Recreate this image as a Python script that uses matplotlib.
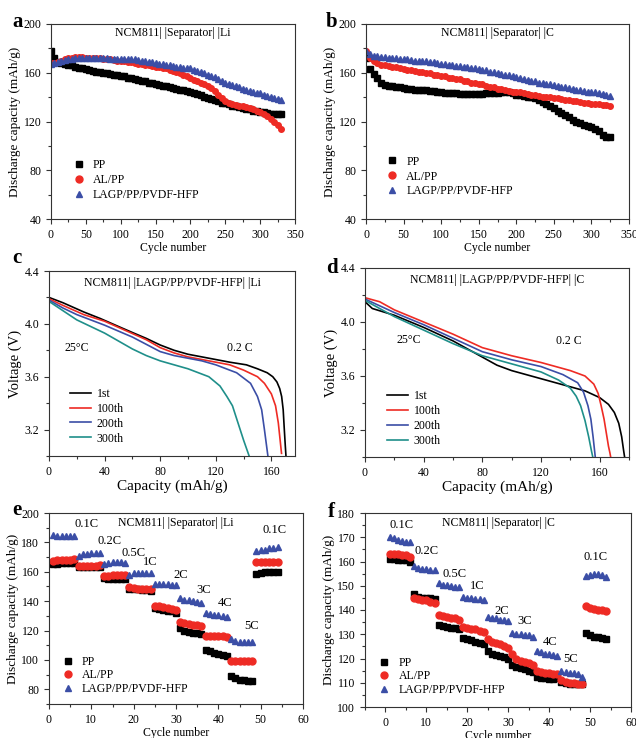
import matplotlib
matplotlib.use("Agg")
import matplotlib.pyplot as plt
from matplotlib.ticker import MultipleLocator

plt.rcParams['font.family'] = ['Liberation Serif', 'DejaVu Serif']
plt.rcParams['mathtext.fontset'] = 'stix'

BLACK = '#000000'
RED = '#ee2b24'
BLUE = '#3b4ea6'
TEAL = '#1f8f8a'
labels = ['PP', 'AL/PP', 'LAGP/PP/PVDF-HFP']

# ---- a: NCM811||Separator||Li cycling (every 5 cycles)
cyc_a = list(range(0, 335, 5))
pp_a = [178, 172, 169, 168, 167, 166.5, 166, 165, 164, 163.5,
        163, 162, 161.5, 161, 160.5, 160, 159.5, 159, 158.5, 158,
        157.5, 157, 156, 155.5, 155, 154, 153.5, 153, 152, 151.5,
        151, 150, 149.5, 149, 148, 147.5, 147, 146, 145.5, 145,
        144.5, 143.5, 142.5, 141.5, 140.5, 139.5, 138.5, 137.5, 136.5, 135.5,
        135, 134, 133, 132.5, 132, 131, 130.5, 130, 129, 128.5,
        128, 127.5, 127, 126.5, 126, 126, 126]
al_a = [168, 168, 169, 170, 171, 172, 172.5, 173, 173, 173,
        172.5, 172.5, 172, 172, 172, 171.5, 171, 171, 170.5, 170,
        170, 169.5, 169, 168.5, 168, 167.5, 167, 166.5, 166, 165.5,
        165, 164.5, 164, 163.5, 162, 161.5, 160.5, 159.5, 158.5, 157,
        155.5, 154, 153, 152, 151, 149.5, 147.5, 145, 142, 139.5,
        137, 135, 134, 133.5, 133, 132.5, 132, 131, 130, 129,
        128, 126.5, 124.5, 122, 120, 117, 114]
lagp_a = [167, 168, 169, 170, 170.5, 171, 171.5, 172, 172, 172,
          172, 172, 172, 172, 172, 172, 172, 171.5, 171.5, 171.5,
          171.5, 171, 171, 171, 171, 170.5, 170, 169.5, 169, 168.5,
          168, 167.5, 167, 166.5, 166, 165.5, 165, 164.5, 164, 163.8,
          163.5, 162.5, 161.5, 160.5, 159.5, 158.5, 157.5, 156.5, 155, 153.5,
          152, 151, 150, 149, 148, 147, 146, 145, 144, 143.5,
          143, 142, 141, 140, 139.5, 138.5, 138]

# ---- b: NCM811||Separator||C cycling (every 5 cycles)
cyc_b = list(range(0, 330, 5))
pp_b = [172, 163, 159, 156, 152, 150, 149.5, 149, 148.5, 148,
        147.5, 147, 146.5, 146, 146, 145.5, 145.5, 145, 145, 144.5,
        144, 143.5, 143.5, 143, 143, 142.5, 142.5, 142.5, 142.5, 142.5,
        142.5, 142.5, 143, 143, 143, 143.5, 144, 144.5, 144, 143,
        142, 141.5, 141, 140.5, 140, 139, 138, 136, 134.5, 133,
        131, 129, 127, 125.5, 123.5, 121.5, 120, 118.5, 117.5, 116.5,
        115.5, 114, 112.5, 109, 107.5, 107.5]
al_b = [178, 172, 170, 168, 166.5, 166, 165.5, 165, 164.5, 164,
        163, 162.5, 162, 161.5, 161, 160.5, 160, 159.5, 158.5, 158,
        157.5, 157, 156, 155.5, 155, 154.5, 153.5, 153, 152, 151.5,
        151, 150.5, 149.5, 148.5, 148, 147, 146.5, 146, 145, 144.5,
        144.5, 144, 143, 142.5, 142, 141.5, 141, 140.5, 140.5, 140,
        139.5, 139, 138.5, 138, 137.5, 137, 136.5, 136, 135.5, 135,
        134.5, 134, 134, 133.5, 133.5, 133]
lagp_b = [178, 175, 174, 173.5, 173, 173, 172.5, 172.5, 172, 171.5,
          171.5, 171, 170.5, 170, 170, 169.5, 169.5, 169, 168.5, 168,
          167.5, 167, 166.5, 166, 165.5, 165.5, 165, 164.5, 164, 163.5,
          163, 162.5, 162, 161, 160.5, 160, 159, 158.5, 158, 157,
          156.5, 156, 155, 154, 153.5, 153, 152, 151.5, 151, 150.5,
          150, 149, 148.5, 148, 147.5, 147, 146, 145.5, 145, 144.5,
          144, 144, 143.5, 142.5, 141.5, 141]

# ---- c: discharge curves, NCM811||LAGP/PP/PVDF-HFP||Li
curve_names = ['1st', '100th', '200th', '300th']
c_cap = [
    [0, 10, 25, 37, 50, 61, 70, 80, 90, 100, 110, 120, 130, 142, 150, 157, 161, 164, 166, 167.4, 168.5, 169.2, 170, 170.5],
    [0, 10, 25, 40, 55, 70, 80, 90, 100, 110, 120, 130, 140, 150, 155, 160, 163, 165, 166.5, 167.3],
    [0, 10, 20, 40, 60, 80, 90, 100, 110, 120, 135, 145, 150, 153, 155, 156.5, 157.5],
    [0, 10, 20, 40, 60, 70, 80, 100, 115, 123, 128, 132, 136, 140, 143, 144],
]
c_volt = [
    [4.20, 4.16, 4.09, 4.04, 3.98, 3.93, 3.89, 3.84, 3.80, 3.77, 3.75, 3.73, 3.71, 3.69, 3.66, 3.63, 3.60, 3.56, 3.51, 3.45, 3.35, 3.22, 3.08, 3.00],
    [4.19, 4.14, 4.07, 4.02, 3.95, 3.88, 3.82, 3.78, 3.75, 3.73, 3.71, 3.69, 3.65, 3.60, 3.55, 3.47, 3.38, 3.25, 3.10, 3.02],
    [4.18, 4.12, 4.07, 3.99, 3.90, 3.79, 3.76, 3.74, 3.72, 3.69, 3.63, 3.55, 3.45, 3.35, 3.20, 3.08, 3.00],
    [4.17, 4.10, 4.03, 3.93, 3.81, 3.76, 3.72, 3.66, 3.60, 3.53, 3.45, 3.38, 3.25, 3.12, 3.03, 3.00],
]

# ---- d: discharge curves, NCM811||LAGP/PP/PVDF-HFP||C
d_cap = [
    [0, 5, 20, 40, 60, 80, 90, 100, 120, 140, 150, 160, 166, 170, 173, 175, 176.3, 177],
    [0, 10, 20, 40, 60, 80, 100, 120, 140, 150, 156, 159, 161, 163, 164.5, 166, 167, 167.5],
    [0, 10, 20, 40, 60, 80, 100, 120, 135, 145, 149, 152, 154, 155.5, 156.5, 157],
    [0, 10, 20, 40, 60, 80, 100, 120, 132, 140, 144, 147, 150, 152.5, 154.5, 155.3],
]
d_volt = [
    [4.15, 4.10, 4.05, 3.96, 3.86, 3.74, 3.68, 3.64, 3.58, 3.52, 3.49, 3.44, 3.39, 3.33, 3.25, 3.15, 3.05, 3.00],
    [4.18, 4.15, 4.09, 4.00, 3.91, 3.81, 3.75, 3.70, 3.64, 3.60, 3.54, 3.47, 3.38, 3.28, 3.18, 3.08, 3.03, 3.00],
    [4.17, 4.12, 4.07, 3.98, 3.88, 3.78, 3.72, 3.67, 3.61, 3.55, 3.48, 3.38, 3.28, 3.15, 3.05, 3.00],
    [4.16, 4.10, 4.04, 3.94, 3.84, 3.75, 3.69, 3.63, 3.57, 3.51, 3.45, 3.38, 3.27, 3.15, 3.04, 3.00],
]

# ---- e / f: rate capability
rate_cyc = list(range(1, 55))
rate_names = ['0.1C', '0.2C', '0.5C', '1C', '2C', '3C', '4C', '5C', '0.1C']
pp_e = [165, 165.5, 166, 166, 166, 166, 163, 163, 163, 163, 163, 163,
        155.5, 155, 155, 155, 155, 155, 148.5, 148, 148, 147.5, 147.5, 147,
        135.5, 134.5, 134, 133.5, 133, 132, 122, 120, 119, 118.5, 118, 117.5,
        107, 106, 105, 104, 103.5, 103, 89, 87.5, 86.5, 86, 85.5, 85.5,
        158.5, 159.5, 160, 160, 160, 160]
al_e = [167, 168, 168, 168, 168, 168.5, 164, 164, 164, 164, 164, 164.5,
        157, 157, 157.5, 158, 158, 158, 149.5, 149, 148.5, 148, 148, 148,
        137, 136.5, 136, 135.5, 135, 134, 126, 125, 124.5, 124, 123.5, 123,
        116.5, 116.5, 116, 116, 116, 115.5, 99.5, 99.5, 99.5, 99, 99, 99,
        166.5, 166.5, 166.5, 166.5, 166.5, 166.5]
lagp_e = [185, 184.5, 184.5, 184.5, 184.5, 184.5, 171, 172, 172, 172.5, 172.5, 172.5,
          165, 166, 166.5, 166.5, 166.5, 166, 158, 159, 159, 159, 159.5, 159.5,
          152, 152, 151.5, 151.5, 151, 151, 142, 141, 140.5, 140, 139.5, 139,
          132, 131, 130.5, 130.5, 130, 129.5, 114, 113, 112.5, 112.5, 112.5, 112,
          174, 174.5, 175, 176, 176.5, 177]
e_label_x = [8.9, 14.3, 19.9, 24.0, 31.2, 36.5, 41.7, 47.9, 53.2]
e_label_y = [192.5, 180.7, 173.0, 166.7, 157.6, 147.4, 138.7, 122.9, 188.2]

pp_f = [161, 161, 160.5, 160.5, 160.5, 160, 146.5, 145.5, 145, 145, 145, 144.5,
        134, 133.5, 133, 132.5, 132.5, 132, 128.5, 128, 127.5, 127, 126.5, 126,
        123, 122, 121.5, 121, 120.5, 120, 117.5, 116.5, 116, 115.5, 115, 114.5,
        112.5, 112, 112, 111.5, 111.5, 112, 110.5, 110, 109.5, 109.5, 109.5, 109.5,
        130.5, 129.5, 129, 129, 128.5, 128]
al_f = [163, 163, 163, 162.5, 162.5, 162, 145, 144.5, 144, 144, 143.5, 143,
        138, 137.5, 137, 136.5, 136.5, 136, 133, 132.5, 132, 132, 131.5, 131,
        128, 127, 126.5, 126, 125, 124.5, 122, 120, 119, 118.5, 118, 117.5,
        115, 114.5, 114, 114, 113.5, 113.5, 111, 110.5, 110, 110, 109.5, 109.5,
        141.5, 141, 140.5, 140, 140, 139.5]
lagp_f = [170, 169.5, 169, 168.5, 168, 168, 158, 157.5, 157, 157, 156.5, 156.5,
          151, 150.5, 150.5, 150, 149.5, 149.5, 145.5, 145, 145, 144.5, 144.5, 144,
          137, 136.5, 136.5, 136, 136, 135.5, 130.5, 130, 130, 129.5, 129.5, 129,
          123, 122.5, 122, 122, 121.5, 121, 115, 114.5, 114, 114, 113.5, 112.5,
          154, 154.5, 155, 155, 154.5, 153.5]
f_label_x = [4.0, 10.1, 16.8, 22.5, 28.3, 34.1, 40.2, 45.2, 51.3]
f_label_y = [174.9, 164.5, 155.0, 149.8, 139.4, 135.5, 126.7, 120.0, 161.9]

W, H = 636, 738
fig = plt.figure(figsize=(W / 100, H / 100), dpi=100)


def box(l, r, t, b):
    return [l / W, 1 - b / H, (r - l) / W, (b - t) / H]


def style(ax):
    for s in ax.spines.values():
        s.set_color('#333333')
        s.set_linewidth(0.8)
    ax.tick_params(which='both', direction='out', top=False, right=False,
                   labelsize=8.5, width=0.8, color='#333333')
    ax.tick_params(which='major', length=3.5)
    ax.tick_params(which='minor', length=2)


# panel a / b
for ax_box, cyc, series, title, leg_xy in [
        (box(51, 295, 24, 219), cyc_a, (pp_a, al_a, lagp_a), 'NCM811| |Separator| |Li', (0.06, 0.06)),
        (box(366, 629, 24, 219), cyc_b, (pp_b, al_b, lagp_b), 'NCM811| |Separator| |C', (0.05, 0.08))]:
    ax = fig.add_axes(ax_box)
    for ys, m, col, lab in zip(series, ['s', 'o', '^'], [BLACK, RED, BLUE], labels):
        ax.plot(cyc, ys, ls='none', marker=m, ms=4.0, color=col, mec=col, label=lab)
    ax.set_xlim(0, 350)
    ax.set_ylim(40, 200)
    ax.xaxis.set_major_locator(MultipleLocator(50))
    ax.xaxis.set_minor_locator(MultipleLocator(25))
    ax.yaxis.set_major_locator(MultipleLocator(40))
    ax.yaxis.set_minor_locator(MultipleLocator(20))
    style(ax)
    ax.set_xlabel('Cycle number', fontsize=8.5, labelpad=1)
    ax.set_ylabel('Discharge capacity (mAh/g)', fontsize=9.5, labelpad=2)
    ax.text(0.5, 0.953, title, transform=ax.transAxes, ha='center', va='center', fontsize=8.5)
    ax.legend(loc='lower left', bbox_to_anchor=leg_xy, frameon=False, fontsize=8.5,
              handletextpad=0.6, labelspacing=0.25, borderpad=0, markerscale=1.25, handlelength=1.2)

# panel c / d
for ax_box, caps, volts, title, xmax, t25, t02, leg_xy in [
        (box(49, 295, 271, 456), c_cap, c_volt, 'NCM811| |LAGP/PP/PVDF-HFP| |Li', 177,
         (20, 3.82), (137, 3.82), (0.06, 0.03)),
        (box(365, 629, 268, 457), d_cap, d_volt, 'NCM811| |LAGP/PP/PVDF-HFP| |C', 180,
         (30, 3.87), (139, 3.86), (0.06, 0.02))]:
    ax = fig.add_axes(ax_box)
    for xs, ys, col, lab in zip(caps, volts, [BLACK, RED, BLUE, TEAL], curve_names):
        ax.plot(xs, ys, color=col, lw=1.2, label=lab)
    ax.set_xlim(0, xmax)
    ax.set_ylim(3.0, 4.4)
    ax.xaxis.set_major_locator(MultipleLocator(40))
    ax.xaxis.set_minor_locator(MultipleLocator(20))
    ax.set_yticks([3.2, 3.6, 4.0, 4.4])
    ax.yaxis.set_minor_locator(MultipleLocator(0.2))
    style(ax)
    ax.set_xlabel('Capacity (mAh/g)', fontsize=11, labelpad=1)
    ax.set_ylabel('Voltage (V)', fontsize=10.5, labelpad=2)
    ax.text(0.5, 0.935, title, transform=ax.transAxes, ha='center', va='center', fontsize=8.5)
    ax.text(t25[0], t25[1], '25°C', ha='center', va='center', fontsize=8.5)
    ax.text(t02[0], t02[1], '0.2 C', ha='center', va='center', fontsize=8.5)
    ax.legend(loc='lower left', bbox_to_anchor=leg_xy, frameon=False, fontsize=8.5,
              handletextpad=0.5, labelspacing=0.25, borderpad=0, handlelength=1.8)

# panel e / f
for ax_box, series, lx, ly, title, ylim, ystep, xlim, leg_xy in [
        (box(49, 303, 513, 704), (pp_e, al_e, lagp_e), e_label_x, e_label_y,
         'NCM811| |Separator| |Li', (70, 200), 20, (0, 60), (0.022, 0.015)),
        (box(365, 631, 513, 707), (pp_f, al_f, lagp_f), f_label_x, f_label_y,
         'NCM811| |Separator| |C', (100, 180), 10, (-5, 60), (0.024, 0.025))]:
    ax = fig.add_axes(ax_box)
    for ys, m, col, lab in zip(series, ['s', 'o', '^'], [BLACK, RED, BLUE], labels):
        ax.plot(rate_cyc, ys, ls='none', marker=m, ms=5, color=col, mec=col, label=lab)
    for x, y, t in zip(lx, ly, rate_names):
        ax.text(x, y, t, ha='center', va='center', fontsize=9)
    ax.set_xlim(*xlim)
    ax.set_ylim(*ylim)
    ax.xaxis.set_major_locator(MultipleLocator(10))
    ax.xaxis.set_minor_locator(MultipleLocator(5))
    ax.yaxis.set_major_locator(MultipleLocator(ystep))
    ax.yaxis.set_minor_locator(MultipleLocator(ystep / 2))
    if ylim[0] == 70:
        ax.set_yticks(range(80, 201, 20))
    style(ax)
    ax.set_xlabel('Cycle number', fontsize=8.5, labelpad=1)
    ax.set_ylabel('Discharge capacity (mAh/g)', fontsize=9.5, labelpad=2)
    ax.text(0.5, 0.95, title, transform=ax.transAxes, ha='center', va='center', fontsize=8.5)
    ax.legend(loc='lower left', bbox_to_anchor=leg_xy, frameon=False, fontsize=8.5,
              handletextpad=0.6, labelspacing=0.15, borderpad=0, handlelength=1.2)

for letter, x, y in [('a', 12, 27), ('b', 326, 27), ('c', 12, 263),
                     ('d', 326, 273), ('e', 12, 515), ('f', 328, 517)]:
    fig.text(x / W, 1 - y / H, letter, fontsize=15, fontweight='bold', va='baseline')

fig.savefig('out.png', dpi=100)
